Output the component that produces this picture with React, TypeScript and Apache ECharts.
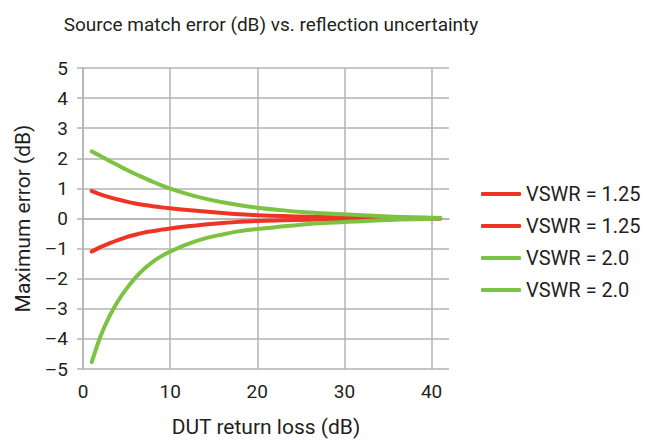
import React, { useEffect, useRef } from "react";
import * as echarts from "echarts";

const xTicks = [0, 10, 20, 30, 40];
const seriesNames = ["VSWR = 1.25", "VSWR = 1.25", "VSWR = 2.0", "VSWR = 2.0"];
const seriesKeys = ["r_up", "r_low", "g_up", "g_low"];

const returnLoss = [1, 2, 3, 4, 5, 6, 7, 8, 9, 10, 12, 14, 16, 18, 20, 23, 26, 29, 32, 35, 38, 41];
const redUpper = [0.91, 0.8, 0.71, 0.63, 0.56, 0.5, 0.45, 0.41, 0.37, 0.34, 0.28, 0.23, 0.18, 0.14, 0.11, 0.08, 0.06, 0.04, 0.03, 0.02, 0.01, 0.0];
const redLower = [-1.1, -0.95, -0.83, -0.72, -0.62, -0.54, -0.47, -0.42, -0.37, -0.33, -0.26, -0.2, -0.15, -0.11, -0.08, -0.06, -0.04, -0.03, -0.02, -0.01, -0.005, 0.0];
const greenUpper = [2.23, 2.08, 1.92, 1.77, 1.62, 1.48, 1.35, 1.22, 1.1, 0.99, 0.81, 0.66, 0.54, 0.44, 0.36, 0.27, 0.2, 0.15, 0.11, 0.07, 0.04, 0.02];
const greenLower = [-4.77, -3.92, -3.27, -2.75, -2.33, -1.97, -1.68, -1.44, -1.25, -1.1, -0.85, -0.66, -0.53, -0.42, -0.35, -0.26, -0.18, -0.13, -0.09, -0.05, -0.025, 0.0];

const RED = "#EE3424";
const GREEN = "#7DC242";
const GRID = "#b3b3b3";
const TEXT = "#231f20";
const FONT = "Roboto, 'Noto Sans', sans-serif";

export default function App() {
  const ref = useRef<HTMLDivElement>(null);
  useEffect(() => {
    document.body.style.margin = "0";
    if (!ref.current) return;
    const chart = echarts.init(ref.current, undefined, { renderer: "svg" });
    const datasets = [redUpper, redLower, greenUpper, greenLower];
    const colors = [RED, RED, GREEN, GREEN];
    const nameMap: Record<string, string> = {};
    seriesKeys.forEach((k, i) => (nameMap[k] = seriesNames[i]));
    const series = datasets.map((d, i) => ({
      name: seriesKeys[i],
      type: "line",
      data: returnLoss.map((x, j) => [x, d[j]]),
      symbol: "none",
      smooth: 0.3,
      z: i < 2 ? 2 : 3,
      lineStyle: { color: colors[i], width: 4, cap: "round", join: "round" },
      itemStyle: { color: colors[i] },
    }));
    chart.setOption({
      animation: false,
      textStyle: { fontFamily: FONT },
      title: {
        text: "Source match error (dB) vs. reflection uncertainty",
        left: 266,
        top: 10,
        textAlign: "center",
        textStyle: { fontFamily: FONT, fontSize: 19, fontWeight: "normal", color: TEXT },
      },
      legend: {
        orient: "vertical",
        left: 476,
        top: 179,
        itemWidth: 40,
        itemHeight: 4,
        itemGap: 12,
        icon: "roundRect",
        data: seriesKeys,
        formatter: (n: string) => nameMap[n],
        textStyle: { fontFamily: FONT, fontSize: 20, color: TEXT },
      },
      grid: { left: 83, right: 201, top: 68, bottom: 69.5, containLabel: false },
      xAxis: {
        type: "value",
        min: 0,
        max: 42,
        interval: 10,
        name: "DUT return loss (dB)",
        nameLocation: "middle",
        nameGap: 47,
        nameTextStyle: { fontFamily: FONT, fontSize: 21, color: TEXT },
        axisLine: { show: true, lineStyle: { color: GRID, width: 1.5 } },
        axisTick: { show: true, length: 6, customValues: xTicks, lineStyle: { color: GRID, width: 1.5 } },
        axisLabel: { customValues: xTicks, fontFamily: FONT, fontSize: 19, color: TEXT, margin: 13 },
        splitLine: { show: true, lineStyle: { color: GRID, width: 1.5 } },
      },
      yAxis: {
        type: "value",
        min: -5,
        max: 5,
        interval: 1,
        name: "Maximum error (dB)",
        nameLocation: "middle",
        nameGap: 50,
        nameTextStyle: { fontFamily: FONT, fontSize: 21, color: TEXT },
        axisLine: { show: true, lineStyle: { color: GRID, width: 1.5 } },
        axisTick: { show: true, length: 6, lineStyle: { color: GRID, width: 1.5 } },
        axisLabel: {
          fontFamily: FONT,
          fontSize: 19,
          color: TEXT,
          margin: 15,
          formatter: (v: number) => (v < 0 ? "\u2013" + Math.abs(v) : String(v)),
        },
        splitLine: { show: true, lineStyle: { color: GRID, width: 1.5 } },
      },
      series,
    });
    return () => chart.dispose();
  }, []);
  return <div ref={ref} style={{ width: 650, height: 442 }} />;
}
